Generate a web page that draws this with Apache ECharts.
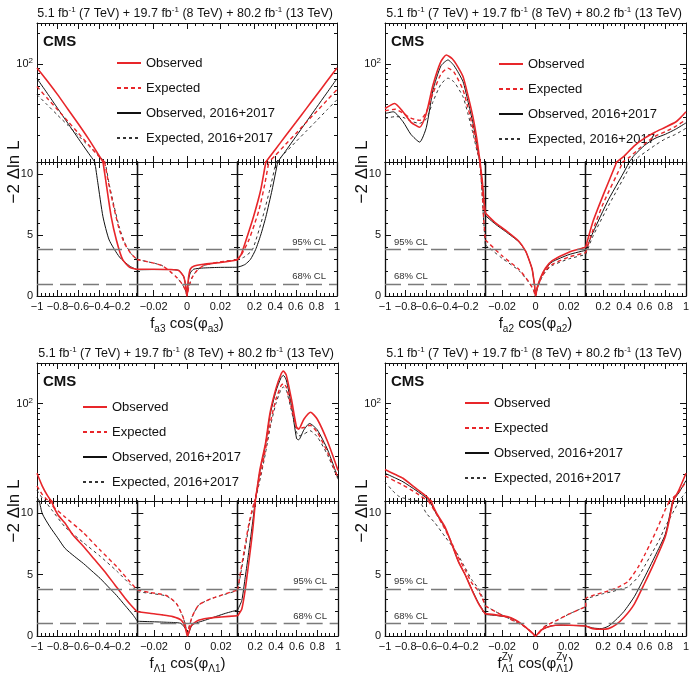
<!DOCTYPE html>
<html>
<head>
<meta charset="utf-8">
<title>-2 Delta ln L scans</title>
<script src="https://cdn.jsdelivr.net/npm/echarts@6/dist/echarts.min.js"></script>
<style>
  html, body { margin: 0; padding: 0; background: #fff; }
  #chart { width: 689px; height: 681px; }
</style>
</head>
<body>
<div id="chart"></div>
<script>
// x ranges of the three pieces of the broken x axis
const segments = [[-1, -0.03], [-0.03, 0.03], [0.03, 1]];
const xMajorTicks = [[-1, -0.8, -0.6, -0.4, -0.2], [-0.02, 0, 0.02], [0.2, 0.4, 0.6, 0.8, 1]];
const xMinorStep = [0.04, 0.005, 0.04];
const linMajorTicks = [0, 5, 10];
const linMinorTicks = [1, 2, 3, 4, 6, 7, 8, 9];
const logMajorTicks = [100];
const logMinorTicks = [20, 30, 40, 50, 60, 70, 80, 90, 200];
const clLevels = [1, 3.84];
const clNames = ['68% CL', '95% CL'];
const curveNames = ['Observed', 'Expected', 'Observed, 2016+2017', 'Expected, 2016+2017'];

// f_a3 cos(phi_a3)
const a3Obs = [[-1, 91], [-0.9, 68], [-0.8, 50], [-0.7, 36], [-0.6, 26], [-0.5, 18.5], [-0.4, 12.8], [-0.36, 11],
  [-0.33, 9.3], [-0.28, 6.5], [-0.23, 4.6], [-0.17, 3.0], [-0.1, 2.35], [-0.03, 2.2],
  [-0.02, 2.2], [-0.01, 2.18], [-0.005, 2.1], [-0.002, 1.6], [-0.001, 1.0], [-0.0005, 0.5], [0, 0],
  [0.0005, 0.9], [0.001, 1.6], [0.002, 2.2], [0.004, 2.45], [0.01, 2.6], [0.02, 2.75], [0.03, 2.96],
  [0.07, 3.4], [0.13, 4.9], [0.19, 6.5], [0.26, 8.7], [0.31, 11], [0.4, 14.5], [0.5, 19.7], [0.6, 26.7],
  [0.7, 36.3], [0.8, 49.3], [0.9, 67], [1, 91]];
const a3Exp = [[-1, 60], [-0.9, 46], [-0.8, 35.6], [-0.7, 27.4], [-0.6, 21.1], [-0.5, 16.2], [-0.4, 12.5], [-0.345, 11],
  [-0.3, 9.0], [-0.25, 7.1], [-0.2, 5.4], [-0.15, 4.3], [-0.09, 3.5], [-0.03, 3.0],
  [-0.02, 2.7], [-0.015, 2.5], [-0.01, 2.0], [-0.006, 1.5], [-0.003, 1.0], [-0.001, 0.5], [0, 0],
  [0.001, 0.7], [0.003, 1.5], [0.006, 2.1], [0.01, 2.5], [0.02, 2.8], [0.03, 2.96],
  [0.08, 3.5], [0.145, 4.6], [0.2, 5.9], [0.245, 7.1], [0.3, 9.2], [0.34, 11], [0.4, 12.7], [0.5, 16.3],
  [0.6, 20.8], [0.7, 26.7], [0.8, 34.1], [0.9, 43.7], [1, 56]];
const a3Obs1617 = [[-1, 71.6], [-0.9, 51.5], [-0.8, 36.7], [-0.7, 26.2], [-0.6, 18.7], [-0.5, 13.4], [-0.44, 11],
  [-0.41, 9.3], [-0.36, 6.5], [-0.3, 4.6], [-0.2, 3.2], [-0.1, 2.45], [-0.03, 2.15],
  [-0.02, 2.17], [-0.01, 2.17], [-0.005, 2.1], [-0.002, 1.6], [-0.001, 1.0], [-0.0005, 0.5], [0, 0],
  [0.0005, 0.8], [0.001, 1.4], [0.002, 1.9], [0.004, 2.2], [0.01, 2.3], [0.02, 2.35], [0.03, 2.36],
  [0.07, 2.45], [0.11, 2.6], [0.16, 3.0], [0.21, 3.8], [0.26, 5.0], [0.31, 6.5], [0.37, 8.7], [0.425, 11],
  [0.5, 14.0], [0.6, 19.4], [0.7, 26.9], [0.8, 37.3], [0.9, 51.7], [1, 71.6]];
const a3Exp1617 = [[-1, 50], [-0.9, 39.7], [-0.8, 31.5], [-0.7, 25.1], [-0.6, 19.9], [-0.5, 15.8], [-0.4, 12.6], [-0.34, 11],
  [-0.3, 9.2], [-0.25, 7.3], [-0.2, 5.6], [-0.15, 4.4], [-0.09, 3.5], [-0.03, 3.0],
  [-0.02, 2.7], [-0.015, 2.5], [-0.01, 2.0], [-0.006, 1.5], [-0.003, 1.0], [-0.001, 0.5], [0, 0],
  [0.001, 0.7], [0.003, 1.5], [0.006, 2.1], [0.01, 2.5], [0.02, 2.8], [0.03, 2.96],
  [0.1, 3.2], [0.18, 3.8], [0.28, 6.5], [0.35, 8.8], [0.41, 11], [0.5, 13.6], [0.6, 17.3], [0.7, 21.9],
  [0.8, 27.7], [0.9, 35.2], [1, 44.6]];

// f_a2 cos(phi_a2)
const a2Obs = [[-1, 36.6], [-0.906, 41], [-0.826, 34], [-0.75, 27], [-0.665, 24], [-0.6, 33], [-0.536, 62], [-0.46, 105],
  [-0.407, 122], [-0.35, 112], [-0.3, 95], [-0.246, 75], [-0.2, 50], [-0.149, 30], [-0.11, 18], [-0.08, 11],
  [-0.06, 9.5], [-0.045, 8], [-0.03, 6.8],
  [-0.024, 6.0], [-0.018, 5.4], [-0.01, 4.5], [-0.006, 3.7], [-0.0042, 3.1], [-0.002, 2.2], [-0.0012, 1.5], [-0.0005, 0.8], [0, 0],
  [0.001, 0.7], [0.003, 1.5], [0.006, 2.3], [0.01, 2.9], [0.02, 3.6], [0.03, 4.0],
  [0.1, 6.1], [0.2, 8.3], [0.33, 11], [0.4, 12.5], [0.5, 15.8], [0.6, 18.8], [0.7, 21.5], [0.8, 24], [0.9, 27],
  [0.95, 30], [1, 34]];
const a2Exp = [[-1, 34.8], [-0.9, 36], [-0.826, 33], [-0.75, 29.5], [-0.665, 28], [-0.6, 34], [-0.536, 51.5], [-0.46, 79],
  [-0.391, 90.6], [-0.33, 82], [-0.246, 55.6], [-0.2, 38], [-0.149, 23.3], [-0.11, 15], [-0.082, 11],
  [-0.06, 8.5], [-0.045, 6.2], [-0.03, 4.6],
  [-0.02, 3.3], [-0.01, 2.2], [-0.0042, 1.2], [-0.0012, 0.5], [0, 0],
  [0.001, 0.6], [0.003, 1.35], [0.006, 2.1], [0.01, 2.6], [0.02, 3.2], [0.03, 3.55],
  [0.1, 5.4], [0.2, 7.6], [0.39, 11], [0.45, 12.2], [0.6, 16.5], [0.7, 19.6], [0.8, 21.7], [0.9, 24.5], [1, 28.5]];
const a2Obs1617 = [[-1, 32.7], [-0.92, 34], [-0.826, 27.2], [-0.75, 20.5], [-0.665, 17.2], [-0.6, 24], [-0.536, 55.6],
  [-0.46, 95], [-0.391, 109], [-0.33, 95], [-0.246, 67], [-0.2, 44], [-0.149, 26.2], [-0.11, 16], [-0.084, 11],
  [-0.06, 9.3], [-0.045, 7.8], [-0.03, 6.6],
  [-0.024, 5.9], [-0.018, 5.3], [-0.01, 4.45], [-0.006, 3.7], [-0.0042, 3.1], [-0.002, 2.2], [-0.0012, 1.5], [-0.0005, 0.8], [0, 0],
  [0.001, 0.65], [0.003, 1.45], [0.006, 2.25], [0.01, 2.8], [0.02, 3.4], [0.03, 3.75],
  [0.1, 5.2], [0.25, 7.9], [0.45, 11], [0.5, 12.8], [0.6, 16], [0.7, 18.7], [0.8, 20.5], [0.9, 23], [1, 26.5]];
const a2Exp1617 = [[-1, 29.3], [-0.9, 30.5], [-0.826, 30], [-0.75, 27.5], [-0.665, 26.2], [-0.6, 29], [-0.536, 42.7],
  [-0.46, 63], [-0.391, 72.4], [-0.33, 66], [-0.246, 47.7], [-0.2, 33], [-0.149, 20.8], [-0.11, 14], [-0.08, 11],
  [-0.06, 8.2], [-0.045, 6.0], [-0.03, 4.2],
  [-0.02, 3.1], [-0.01, 2.1], [-0.0042, 1.15], [-0.0012, 0.5], [0, 0],
  [0.001, 0.55], [0.003, 1.3], [0.006, 2.0], [0.01, 2.5], [0.02, 3.05], [0.03, 3.4],
  [0.1, 4.9], [0.25, 7.4], [0.48, 11], [0.55, 12.5], [0.7, 16], [0.8, 18.5], [0.9, 20.5], [1, 23.5]];

// f_L1 cos(phi_L1)
const l1Obs = [[-1, 20.6], [-0.95, 15.5], [-0.9, 12.5], [-0.86, 11], [-0.8, 9.9], [-0.73, 9.2], [-0.65, 8.2],
  [-0.55, 7.3], [-0.45, 6.3], [-0.35, 5.3], [-0.25, 4.2], [-0.15, 3.1], [-0.08, 2.4], [-0.04, 2.05], [-0.03, 1.98],
  [-0.0227, 1.85], [-0.015, 1.72], [-0.0088, 1.58], [-0.0038, 1.3], [-0.0015, 0.76], [0, 0],
  [0.002, 0.8], [0.006, 1.25], [0.012, 1.45], [0.02, 1.55], [0.03, 1.65],
  [0.07, 2.2], [0.1, 3.6], [0.13, 5.5], [0.16, 7.5], [0.18, 9.0], [0.2, 11], [0.243, 21.8], [0.3, 41], [0.342, 80],
  [0.4, 140], [0.45, 195], [0.472, 208], [0.5, 190], [0.55, 110], [0.6, 58], [0.62, 56], [0.67, 70], [0.735, 82],
  [0.8, 70], [0.9, 42], [1, 22]];
const l1Exp = [[-1, 15.5], [-0.95, 12.8], [-0.9, 11.3], [-0.85, 10.6], [-0.73, 9.7], [-0.55, 8.4], [-0.39, 7.0],
  [-0.23, 5.65], [-0.1, 4.4], [-0.03, 3.75],
  [-0.0227, 3.55], [-0.0127, 3.3], [-0.0067, 2.66], [-0.0028, 1.58], [-0.0008, 0.63], [0, 0],
  [0.0008, 0.63], [0.0028, 1.58], [0.0068, 2.53], [0.0148, 3.07], [0.03, 3.75],
  [0.06, 5.3], [0.1, 7.3], [0.14, 9.2], [0.18, 10.6], [0.195, 11], [0.25, 20], [0.3, 36], [0.35, 68], [0.4, 110],
  [0.45, 150], [0.472, 157], [0.5, 145], [0.55, 90], [0.6, 58], [0.62, 57], [0.67, 58], [0.73, 61], [0.8, 52],
  [0.9, 33], [1, 18.5]];
const l1Obs1617 = [[-1, 12], [-0.95, 10], [-0.875, 8.9], [-0.8, 8.0], [-0.73, 7.15], [-0.64, 6.5], [-0.55, 5.9],
  [-0.47, 5.3], [-0.39, 4.7], [-0.31, 4.0], [-0.23, 3.3], [-0.15, 2.5], [-0.07, 1.7], [-0.03, 1.2],
  [-0.0127, 1.12], [-0.004, 1.03], [-0.0008, 0.5], [0, 0],
  [0.0028, 0.9], [0.0108, 1.3], [0.0228, 1.85], [0.03, 2.12],
  [0.07, 2.9], [0.1, 4.6], [0.13, 6.4], [0.16, 8.3], [0.19, 10.3], [0.2, 11], [0.243, 21], [0.3, 40], [0.342, 76],
  [0.4, 132], [0.45, 180], [0.472, 189], [0.5, 170], [0.55, 95], [0.6, 45], [0.62, 44], [0.67, 55], [0.725, 63.6],
  [0.8, 55], [0.9, 35], [1, 18.5]];
const l1Exp1617 = [[-1, 14], [-0.95, 11.8], [-0.92, 11], [-0.85, 10.2], [-0.73, 8.9], [-0.55, 7.6], [-0.39, 6.5],
  [-0.23, 5.3], [-0.1, 4.2], [-0.03, 3.6],
  [-0.0227, 3.48], [-0.0127, 3.26], [-0.0067, 2.66], [-0.0028, 1.58], [-0.0008, 0.63], [0, 0],
  [0.0008, 0.63], [0.0028, 1.58], [0.0068, 2.53], [0.0148, 3.07], [0.03, 3.7],
  [0.06, 5.1], [0.1, 7.0], [0.14, 9.0], [0.18, 10.5], [0.197, 11], [0.25, 18.5], [0.3, 33], [0.35, 62], [0.4, 100],
  [0.45, 138], [0.472, 145], [0.5, 135], [0.55, 85], [0.6, 52], [0.62, 48], [0.67, 50], [0.73, 54], [0.8, 47],
  [0.9, 31], [1, 18]];

// f^Zg_L1 cos(phi^Zg_L1)
const zgObs = [[-1, 22.4], [-0.9, 20], [-0.826, 18.4], [-0.7, 14.6], [-0.6, 12.2], [-0.555, 11], [-0.5, 10.0],
  [-0.42, 8.9], [-0.35, 7.4], [-0.29, 6.06], [-0.22, 4.9], [-0.16, 3.75], [-0.1, 2.7], [-0.06, 2.15], [-0.03, 1.8],
  [-0.024, 1.72], [-0.016, 1.55], [-0.012, 1.3], [-0.008, 0.95], [-0.004, 0.5], [-0.0015, 0.2], [0, 0],
  [0.0034, 0.49], [0.0093, 0.82], [0.0153, 0.9], [0.03, 0.82],
  [0.1, 0.6], [0.18, 0.55], [0.25, 0.6], [0.32, 0.9], [0.4, 1.5], [0.5, 2.6], [0.6, 4.3], [0.7, 6.1], [0.8, 8.1],
  [0.874, 11], [0.93, 14], [1, 20.6]];
const zgExp = [[-1, 19.4], [-0.9, 17.2], [-0.826, 15.8], [-0.7, 13.2], [-0.6, 11.3], [-0.58, 11], [-0.5, 9.9],
  [-0.42, 8.7], [-0.35, 7.5], [-0.29, 6.4], [-0.22, 5.3], [-0.16, 4.3], [-0.1, 3.7], [-0.06, 3.1], [-0.03, 2.45],
  [-0.022, 1.85], [-0.014, 1.3], [-0.008, 0.9], [-0.004, 0.5], [0, 0],
  [0.0054, 0.76], [0.013, 1.3], [0.021, 1.85], [0.03, 2.39],
  [0.031, 3.05], [0.1, 3.3], [0.2, 3.55], [0.28, 3.75], [0.36, 4.05], [0.44, 4.45], [0.54, 5.65], [0.6, 6.6],
  [0.67, 7.8], [0.74, 9.1], [0.8, 10.3], [0.84, 11], [0.93, 13.5], [1, 17]];
const zgObs1617 = [[-1, 20.6], [-0.9, 18.5], [-0.826, 17], [-0.7, 14], [-0.6, 11.8], [-0.567, 11], [-0.5, 9.9],
  [-0.42, 8.8], [-0.35, 7.4], [-0.29, 6.06], [-0.22, 4.9], [-0.16, 3.8], [-0.1, 2.75], [-0.06, 2.2], [-0.03, 1.75],
  [-0.024, 1.68], [-0.016, 1.52], [-0.012, 1.28], [-0.008, 0.93], [-0.004, 0.5], [-0.0015, 0.2], [0, 0],
  [0.0034, 0.5], [0.0093, 0.82], [0.0153, 0.88], [0.03, 0.82],
  [0.1, 0.65], [0.18, 0.6], [0.25, 0.8], [0.32, 1.3], [0.4, 2.0], [0.5, 3.2], [0.6, 4.8], [0.7, 6.5], [0.8, 8.3],
  [0.87, 11], [0.93, 13.2], [1, 17.5]];
const zgExp1617 = [[-1, 17], [-0.93, 14], [-0.87, 12.3], [-0.8, 11.6], [-0.72, 11.2], [-0.66, 10.9], [-0.6, 10.0],
  [-0.516, 9.2], [-0.42, 8.1], [-0.323, 7.0], [-0.24, 5.8], [-0.162, 4.6], [-0.1, 3.9], [-0.06, 3.2], [-0.03, 2.45],
  [-0.022, 1.85], [-0.014, 1.3], [-0.008, 0.9], [-0.004, 0.5], [0, 0],
  [0.0054, 0.76], [0.013, 1.3], [0.021, 1.85], [0.03, 2.39],
  [0.031, 3.0], [0.1, 3.2], [0.2, 3.45], [0.28, 3.6], [0.36, 3.8], [0.44, 4.0], [0.54, 4.84], [0.6, 5.7],
  [0.67, 6.74], [0.74, 7.8], [0.8, 8.9], [0.87, 10.0], [0.93, 11], [1, 13.5]];

const FONT = '"Liberation Sans", Arial, Helvetica, sans-serif';
const RED = '#e8262a';
const BLACK = '#111';

const curveStyles = [
  { color: RED, width: 1.6, type: 'solid' },
  { color: RED, width: 1.4, type: [4, 3] },
  { color: BLACK, width: 1, type: 'solid' },
  { color: '#333', width: 1, type: [3, 3] }
];

// layout of the four pads
const panels = [
  { L: 37, R: 337, T: 23, B: 162, Bo: 296, curves: [a3Obs, a3Exp, a3Obs1617, a3Exp1617],
    legendLeft: 111, legendTop: 51, clSeg: 2, name: ['a3', 'a3'] },
  { L: 385, R: 686, T: 23, B: 162, Bo: 296, curves: [a2Obs, a2Exp, a2Obs1617, a2Exp1617],
    legendLeft: 493, legendTop: 52, clSeg: 0, name: ['a2', 'a2'] },
  { L: 37, R: 338, T: 363, B: 501, Bo: 636, curves: [l1Obs, l1Exp, l1Obs1617, l1Exp1617],
    legendLeft: 77, legendTop: 395, clSeg: 2, name: ['Λ1', 'Λ1'] },
  { L: 385, R: 686, T: 363, B: 501, Bo: 636, curves: [zgObs, zgExp, zgObs1617, zgExp1617],
    legendLeft: 459, legendTop: 391, clSeg: 0, name: ['Λ1', 'Λ1'], sup: 'Zγ' }
];

function minorList(seg, step, majors) {
  const out = [];
  for (let k = Math.ceil(seg[0] / step - 1e-9); k * step <= seg[1] + 1e-9; k++) {
    const v = +(k * step).toFixed(4);
    if (v > seg[0] && v < seg[1] && !majors.some(m => Math.abs(m - v) < 1e-9)) out.push(v);
  }
  return out;
}
const xMinorTicks = segments.map((seg, s) => minorList(seg, xMinorStep[s], xMajorTicks[s]));
// labels are split over two axes so that the tight neighbours are not dropped as overlapping
const xLabelsA = xMajorTicks.map(t => t.filter((v, i) => i % 2 === 0));
const xLabelsB = xMajorTicks.map(t => t.filter((v, i) => i % 2 === 1));

function fmtX(v) {
  if (Math.abs(v) < 1e-12) return '0';
  return (v < 0 ? '\u2212' : '') + String(+Math.abs(v).toFixed(3));
}

function xAx(gi, seg, pos, ticks, len, labels, minor) {
  return {
    type: 'value', gridIndex: gi, position: pos, min: seg[0], max: seg[1],
    axisLine: { show: !minor, onZero: false, lineStyle: { color: BLACK, width: 1 } },
    axisTick: { show: true, inside: true, length: len, customValues: ticks, lineStyle: { color: BLACK, width: 1 } },
    axisLabel: { show: !!labels && labels.length > 0, customValues: labels || [], formatter: fmtX, margin: 5,
      fontSize: 11, color: BLACK, fontFamily: FONT, showMinLabel: true, showMaxLabel: true, hideOverlap: false },
    splitLine: { show: false }
  };
}

function yAx(gi, isTop, pos, major, show, showLabel, lineW) {
  const ticks = isTop ? (major ? logMajorTicks : logMinorTicks) : (major ? linMajorTicks : linMinorTicks);
  return {
    type: isTop ? 'log' : 'value', logBase: 10, gridIndex: gi, position: pos, show: show,
    min: isTop ? 11 : 0, max: isTop ? 250 : 11,
    axisLine: { show: major, onZero: false, lineStyle: { color: BLACK, width: lineW } },
    axisTick: { show: true, inside: true, length: major ? 6 : 3, customValues: ticks,
      lineStyle: { color: BLACK, width: 1 } },
    axisLabel: {
      show: showLabel && major, customValues: ticks, margin: 4, fontSize: 11, color: BLACK, fontFamily: FONT,
      showMinLabel: true, showMaxLabel: true,
      formatter: isTop ? () => '{a|10}{b|2}' : '{value}',
      rich: { a: { fontSize: 11, lineHeight: 14, fontFamily: FONT, color: BLACK },
              b: { fontSize: 8, lineHeight: 8, verticalAlign: 'top', fontFamily: FONT, color: BLACK } }
    },
    splitLine: { show: false }
  };
}

const grid = [], xAxis = [], yAxis = [], series = [];

panels.forEach((p, pi) => {
  const w = (p.R - p.L) / 3;
  ['top', 'bottom'].forEach(part => {
    const isTop = part === 'top';
    segments.forEach((seg, s) => {
      const gi = grid.length;
      grid.push({
        left: p.L + s * w, width: w,
        top: isTop ? p.T : p.B, height: isTop ? p.B - p.T : p.Bo - p.B,
        outerBoundsMode: 'none'
      });
      const xi = xAxis.length;
      xAxis.push(xAx(gi, seg, 'bottom', xMajorTicks[s], 6, isTop ? null : xLabelsA[s], false));
      xAxis.push(xAx(gi, seg, 'bottom', xMinorTicks[s], 3, isTop ? null : xLabelsB[s], true));
      xAxis.push(xAx(gi, seg, 'top', xMajorTicks[s], 6, null, false));
      xAxis.push(xAx(gi, seg, 'top', xMinorTicks[s], 3, null, true));

      const yi = yAxis.length;
      const showLeft = !isTop || s === 0;
      const showRight = !isTop || s === 2;
      const lw = isTop ? 1 : 1.3;
      yAxis.push(yAx(gi, isTop, 'left', true, showLeft, s === 0, lw));
      yAxis.push(yAx(gi, isTop, 'left', false, showLeft, false, lw));
      yAxis.push(yAx(gi, isTop, 'right', true, showRight, false, lw));
      yAxis.push(yAx(gi, isTop, 'right', false, showRight, false, lw));

      p.curves.forEach((c, ci) => {
        let pts = c.filter(d => d[0] >= seg[0] - 1e-9 && d[0] <= seg[1] + 1e-9);
        if (isTop) pts = pts.filter(d => d[1] > 0);
        const st = curveStyles[ci];
        const sr = {
          type: 'line', name: curveNames[ci], xAxisIndex: xi, yAxisIndex: yi, data: pts,
          symbol: 'none', smooth: 0.2, clip: true, silent: true, animation: false,
          z: ci < 2 ? 4 : 3,
          lineStyle: { color: st.color, width: st.width, type: st.type },
          itemStyle: { color: st.color }
        };
        if (!isTop && ci === 0) {
          const right = p.clSeg === 2;
          sr.markLine = {
            silent: true, symbol: ['none', 'none'], animation: false,
            lineStyle: { color: '#7a7a7a', type: [16, 7], width: 1.4 },
            label: {
              show: s === p.clSeg, position: right ? 'insideEndTop' : 'insideStartTop',
              formatter: '{b}', fontSize: 9.5, color: '#333', fontFamily: FONT, distance: 2,
              padding: right ? [0, 9, 0, 0] : [0, 0, 0, 7]
            },
            data: clLevels.map((v, k) => ({ yAxis: v, name: clNames[k] }))
          };
        }
        series.push(sr);
      });
    });
  });
});

// text measuring for the stacked super/subscripts
const measureCtx = document.createElement('canvas').getContext('2d');
function tw(str, size) {
  measureCtx.font = size + 'px ' + FONT;
  return measureCtx.measureText(str).width;
}

const graphic = [];
panels.forEach(p => {
  const w = (p.R - p.L) / 3;
  graphic.push({
    type: 'text', x: p.R - 4, y: p.T - 9, silent: true,
    style: {
      text: '{n|5.1 fb}{s|-1}{n| (7 TeV) + 19.7 fb}{s|-1}{n| (8 TeV) + 80.2 fb}{s|-1}{n| (13 TeV)}',
      align: 'right', verticalAlign: 'middle', textAlign: 'right', textVerticalAlign: 'middle',
      rich: {
        n: { fontSize: 12.5, lineHeight: 16, fontFamily: FONT, fill: BLACK },
        s: { fontSize: 8, lineHeight: 8, verticalAlign: 'top', fontFamily: FONT, fill: BLACK }
      }
    }
  });
  graphic.push({
    type: 'text', x: p.L + 6, y: p.T + 19, silent: true,
    style: { text: 'CMS', fontSize: 15, fontWeight: 'bold', fontFamily: FONT, fill: BLACK,
      align: 'left', verticalAlign: 'middle', textAlign: 'left', textVerticalAlign: 'middle' }
  });
  graphic.push({
    type: 'text', x: p.L - 23, y: p.B + 10, rotation: Math.PI / 2, silent: true,
    style: { text: '\u22122 \u0394ln L', fontSize: 17, fontFamily: FONT, fill: BLACK,
      align: 'center', verticalAlign: 'middle', textAlign: 'center', textVerticalAlign: 'middle' }
  });
  const cx = p.L + 1.5 * w;
  const cy = p.Bo + 28;
  graphic.push({
    type: 'text', x: cx, y: cy, silent: true,
    style: {
      text: '{n|f}{b|' + p.name[0] + '}{n| cos(\u03c6}{b|' + p.name[1] + '}{n|)}',
      align: 'center', verticalAlign: 'middle', textAlign: 'center', textVerticalAlign: 'middle',
      rich: {
        n: { fontSize: 15, lineHeight: 20, fontFamily: FONT, fill: BLACK },
        b: { fontSize: 10, lineHeight: 10, verticalAlign: 'bottom', fontFamily: FONT, fill: BLACK }
      }
    }
  });
  if (p.sup) {
    const total = tw('f', 15) + tw(p.name[0], 10) + tw(' cos(\u03c6', 15) + tw(p.name[1], 10) + tw(')', 15);
    const x0 = cx - total / 2;
    const s1 = x0 + tw('f', 15);
    const s2 = s1 + tw(p.name[0], 10) + tw(' cos(\u03c6', 15);
    [s1, s2].forEach(sx => graphic.push({
      type: 'text', x: sx, y: cy - 7, silent: true,
      style: { text: p.sup, fontSize: 10, fontFamily: FONT, fill: BLACK,
        align: 'left', verticalAlign: 'middle', textAlign: 'left', textVerticalAlign: 'middle' }
    }));
  }
});

const legend = panels.map(p => ({
  orient: 'vertical', left: p.legendLeft, top: p.legendTop,
  itemWidth: 24, itemHeight: 14, itemGap: 11, selectedMode: false,
  data: curveNames,
  itemStyle: { opacity: 0 },
  textStyle: { fontSize: 13, lineHeight: 14, fontFamily: FONT, color: BLACK }
}));

const chart = echarts.init(document.getElementById('chart'), null, { renderer: 'canvas' });
chart.setOption({
  backgroundColor: '#fff',
  animation: false,
  textStyle: { fontFamily: FONT },
  grid, xAxis, yAxis, series, legend, graphic
});
</script>
</body>
</html>
